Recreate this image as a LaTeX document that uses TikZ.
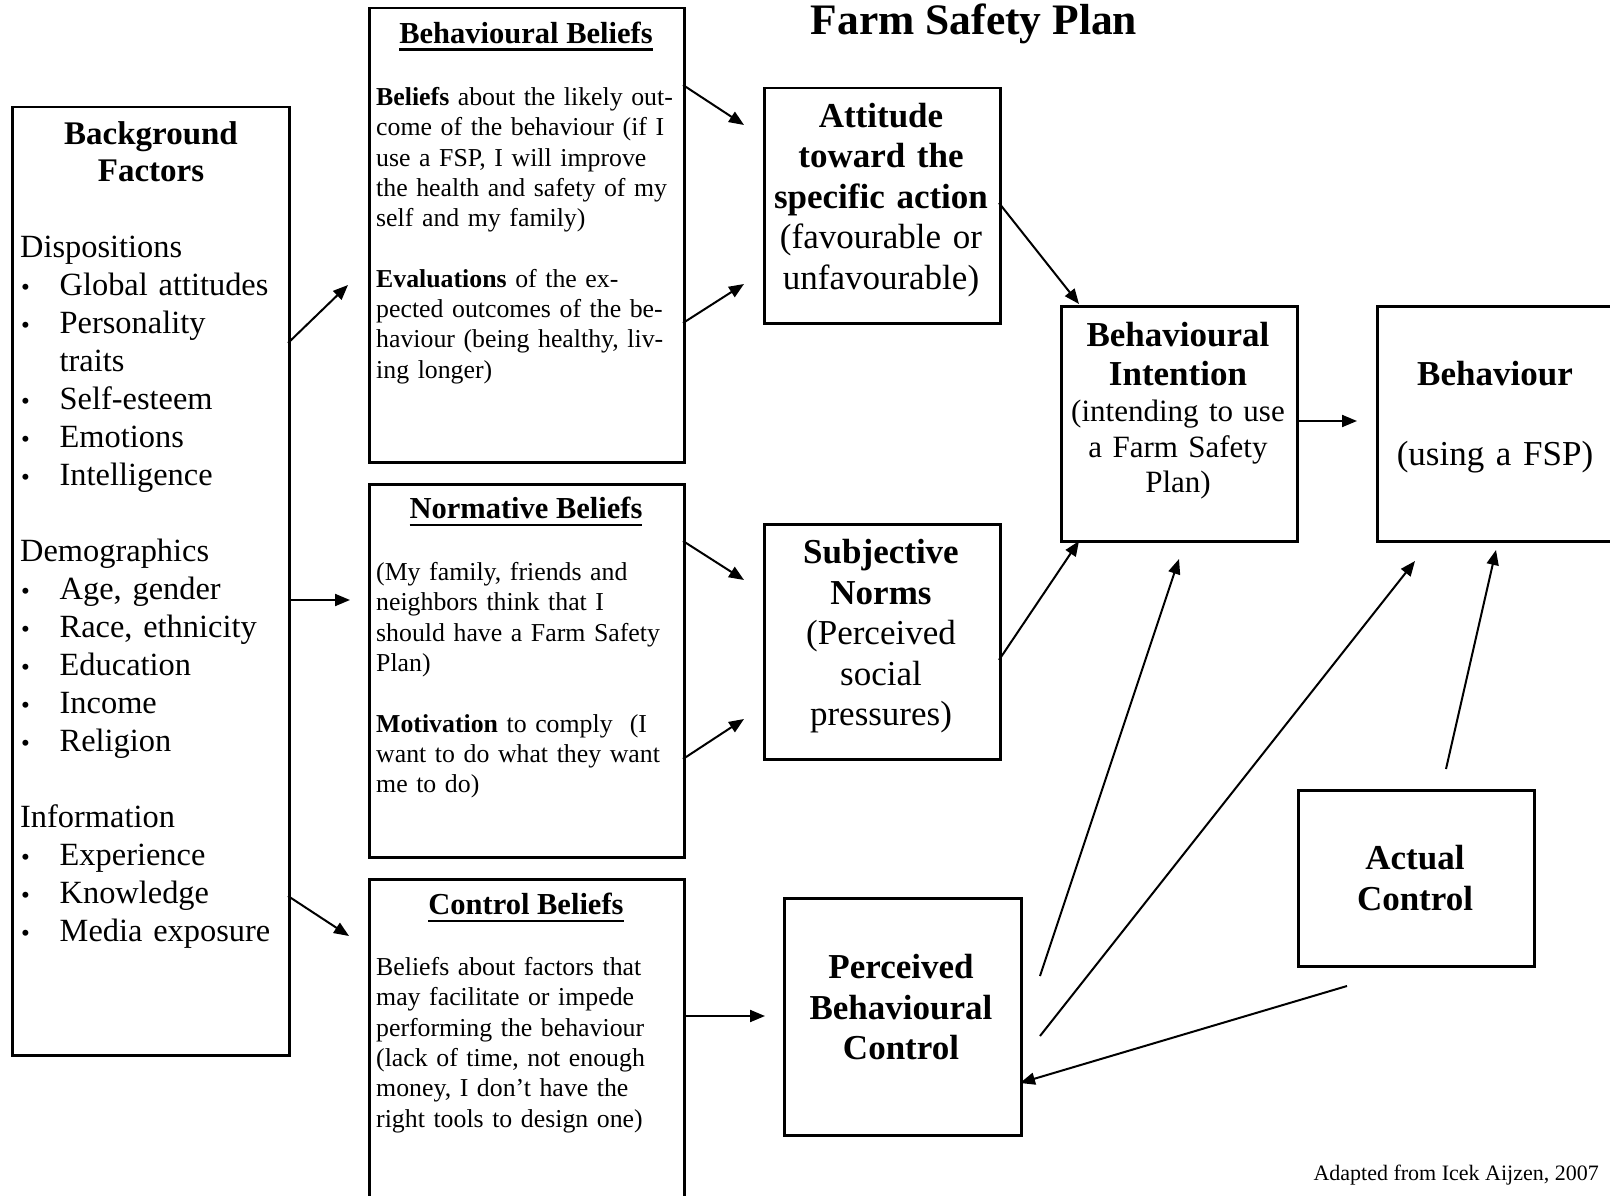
\documentclass[tikz,border=0pt]{standalone}
\usepackage{fontspec}
\setmainfont{Liberation Serif}
\usetikzlibrary{arrows.meta}
\newcommand{\ulbox}[1]{\setbox0\hbox{#1}\rlap{\rule[-7.5pt]{\wd0}{2.5pt}}\box0}
\newcommand{\fsz}[2]{\fontsize{#1}{#2}\selectfont}
\newcommand{\bul}{\makebox[39.5pt][l]{\hspace*{1pt}{\fsz{25}{25}\textbullet}}}
\newcommand{\noblt}{\makebox[39.5pt][l]{}}
\tikzset{
  box/.style={draw, line width=2.5pt, inner sep=0pt, anchor=north west},
  arr/.style={line width=2pt, -{Triangle[length=15pt,width=12pt]}},
  body/.style={anchor=base west, align=left, inner sep=0pt, text width=320pt, font=\fsz{25.8}{30.3}},
  head/.style={anchor=base, inner sep=0pt, font=\fsz{30.5}{36}\bfseries},
  bigc/.style={anchor=base, align=center, inner sep=0pt, text width=236pt, font=\fsz{35}{40.5}},
}
\begin{document}
\begin{tikzpicture}[x=1pt, y=-1pt]
\useasboundingbox (0,0) rectangle (1610,1196);
\fill[white] (0,0) rectangle (1610,1196);

% boxes
\node[box, minimum width=277pt, minimum height=948pt] (bf) at (11,106) {};
\node[box, minimum width=315pt, minimum height=454pt] (bb) at (368,7) {};
\node[box, minimum width=315pt, minimum height=373pt] (nb) at (368,483) {};
\node[box, minimum width=315pt, minimum height=340pt] (cb) at (368,878) {};
\node[box, minimum width=236pt, minimum height=235pt] (att) at (763,87) {};
\node[box, minimum width=236pt, minimum height=235pt] (sn) at (763,523) {};
\node[box, minimum width=236pt, minimum height=235pt] (bi) at (1060,305) {};
\node[box, minimum width=240pt, minimum height=235pt] (beh) at (1376,305) {};
\node[box, minimum width=237pt, minimum height=237pt] (pbc) at (783,897) {};
\node[box, minimum width=236pt, minimum height=176pt] (ac) at (1297,789) {};

% title and footer
\node[anchor=base, inner sep=0pt, font=\fsz{43.5}{50}\bfseries] (title) at (974,35) {Farm Safety Plan};
\node[anchor=base east, inner sep=0pt, font=\fsz{22}{26}] (foot) at (1599,1180) {Adapted from Icek Aijzen, 2007};

% background factors
\node[anchor=base, align=center, inner sep=0pt, text width=270pt, font=\fsz{33}{37}\bfseries] (bfh) at (151,145) {Background\\Factors};
\node[anchor=base west, align=left, inner sep=0pt, text width=268pt, font=\fsz{32.4}{38}] (bfl) at (20,257.5) {%
Dispositions\\
\bul Global attitudes\\
\bul Personality\\
\noblt traits\\
\bul Self-esteem\\
\bul Emotions\\
\bul Intelligence\\[38pt]
Demographics\\
\bul Age, gender\\
\bul Race, ethnicity\\
\bul Education\\
\bul Income\\
\bul Religion\\[38pt]
Information\\
\bul Experience\\
\bul Knowledge\\
\bul Media exposure};

% behavioural beliefs
\node[head] (bbh) at (526,43.5) {\ulbox{Behavioural Beliefs}};
\node[body] (bbt) at (376,105.5) {%
\textbf{Beliefs} about the likely out-\\
come of the behaviour (if I\\
use a FSP, I will improve\\
the health and safety of my\\
self and my family)\\[30.3pt]
\textbf{Evaluations} of the ex-\\
pected outcomes of the be-\\
haviour (being healthy, liv-\\
ing longer)};

% normative beliefs
\node[head] (nbh) at (526,518.5) {\ulbox{Normative Beliefs}};
\node[body] (nbt) at (376,580.5) {%
(My family, friends and\\
neighbors think that I\\
should have a Farm Safety\\
Plan)\\[30.3pt]
\textbf{Motivation} to comply\ \ (I\\
want to do what they want\\
me to do)};

% control beliefs
\node[head] (cbh) at (526,914.5) {\ulbox{Control Beliefs}};
\node[body] (cbt) at (376,975.5) {%
Beliefs about factors that\\
may facilitate or impede\\
performing the behaviour\\
(lack of time, not enough\\
money, I don’t have the\\
right tools to design one)};

% attitude
\node[bigc] (attt) at (881,127.5) {\textbf{Attitude}\\ \textbf{toward the}\\ \textbf{specific action}\\ (favourable or\\ unfavourable)};
% subjective norms
\node[bigc] (snt) at (881,563.5) {\textbf{Subjective}\\ \textbf{Norms}\\ (Perceived\\ social\\ pressures)};
% behavioural intention
\node[bigc, font=\fsz{35}{39}\bfseries] (bit1) at (1178,346) {Behavioural\\Intention};
\node[bigc, font=\fsz{31}{35.5}] (bit2) at (1178,421.5) {(intending to use\\a Farm Safety\\Plan)};
% behaviour
\node[bigc, font=\fsz{35}{40}\bfseries] (beht1) at (1495,385.5) {Behaviour};
\node[bigc, font=\fsz{35}{40}] (beht2) at (1495,465) {(using a FSP)};
% actual control
\node[bigc, font=\fsz{35}{41}\bfseries] (act) at (1415,869.5) {Actual\\Control};
% perceived behavioural control
\node[bigc, font=\fsz{35}{40.5}\bfseries] (pbct) at (901,978.5) {Perceived\\Behavioural\\Control};

% connector end points
\coordinate (a1s) at (288,343);  \coordinate (a1e) at (348,285);
\coordinate (a2s) at (288,600);  \coordinate (a2e) at (350,600);
\coordinate (a3s) at (288,896);  \coordinate (a3e) at (349,936);
\coordinate (a4s) at (683,85);   \coordinate (a4e) at (744,125);
\coordinate (a5s) at (683,323);  \coordinate (a5e) at (744,284);
\coordinate (a6s) at (683,541);  \coordinate (a6e) at (744,580);
\coordinate (a7s) at (683,759);  \coordinate (a7e) at (744,719);
\coordinate (a8s) at (683,1016); \coordinate (a8e) at (765,1016);
\coordinate (a9s) at (999,203); \coordinate (a9e) at (1079,304);
\coordinate (a10s) at (999,660); \coordinate (a10e) at (1079,541);
\coordinate (a11s) at (1296,421); \coordinate (a11e) at (1357,421);
\coordinate (a12s) at (1040,976); \coordinate (a12e) at (1179,559);
\coordinate (a13s) at (1040,1036); \coordinate (a13e) at (1415,561);
\coordinate (a14s) at (1446,769); \coordinate (a14e) at (1496,550);
\coordinate (a15s) at (1347,986); \coordinate (a15e) at (1020,1083);

\draw[arr] (a1s) -- (a1e);
\draw[arr] (a2s) -- (a2e);
\draw[arr] (a3s) -- (a3e);
\draw[arr] (a4s) -- (a4e);
\draw[arr] (a5s) -- (a5e);
\draw[arr] (a6s) -- (a6e);
\draw[arr] (a7s) -- (a7e);
\draw[arr] (a8s) -- (a8e);
\draw[arr] (a9s) -- (a9e);
\draw[arr] (a10s) -- (a10e);
\draw[arr] (a11s) -- (a11e);
\draw[arr] (a12s) -- (a12e);
\draw[arr] (a13s) -- (a13e);
\draw[arr] (a14s) -- (a14e);
\draw[arr] (a15s) -- (a15e);
\end{tikzpicture}
\end{document}
